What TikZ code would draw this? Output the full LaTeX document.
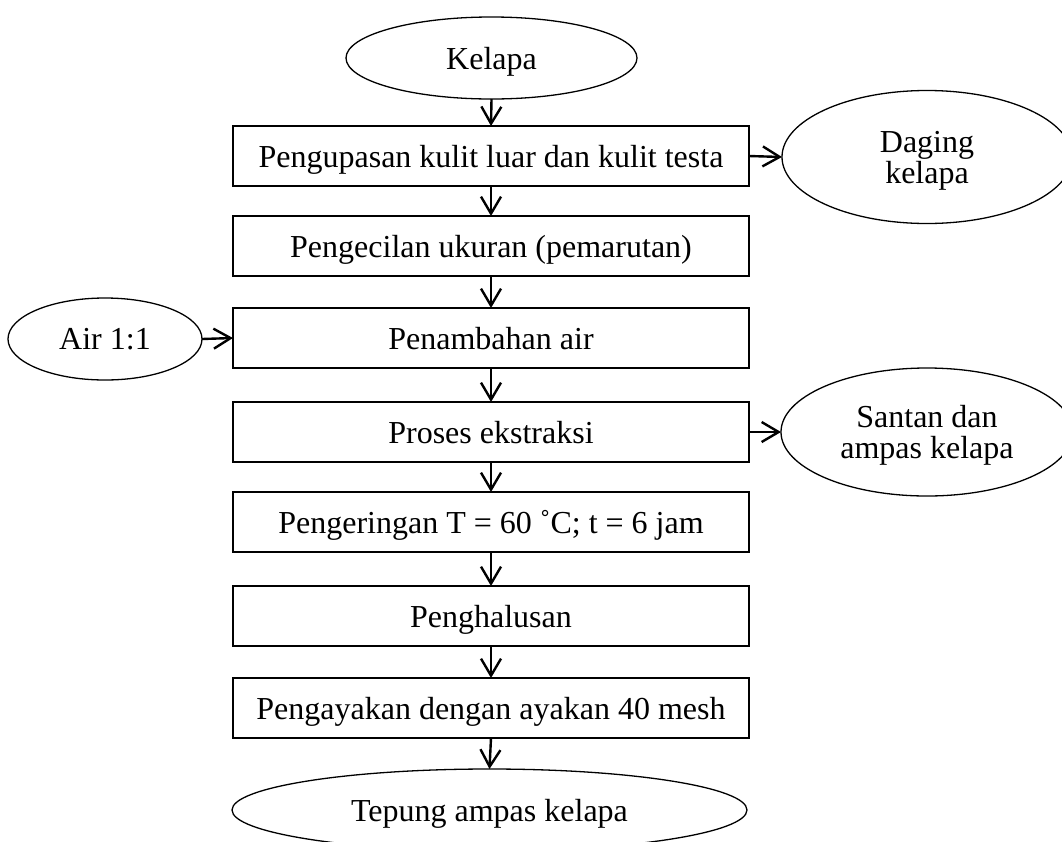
\documentclass[tikz,border=0pt]{standalone}
\usepackage{fontspec}
\setmainfont{Liberation Serif}
\usetikzlibrary{shapes.geometric,arrows.meta}
\begin{document}
\begin{tikzpicture}[x=1pt,y=-1pt,
  every node/.style={font=\fontsize{32}{31}\selectfont, inner sep=0pt, outer sep=0pt, text depth=0pt},
  procbox/.style={draw, line width=1.3pt, minimum width=516pt, minimum height=60pt},
  oval/.style={draw, ellipse, line width=1.3pt, align=center},
  flow/.style={line width=2.4pt, -{Straight Barb[length=17pt,width=20pt]}}
]
\useasboundingbox (0,0) rectangle (1062,841);
\clip (0,0) rectangle (1062,841);

\node[oval, minimum width=291pt, minimum height=82pt] (k) at (491.5,58) {Kelapa};
\node[procbox] (b1) at (491,156) {Pengupasan kulit luar dan kulit testa};
\node[procbox] (b2) at (491,246) {Pengecilan ukuran (pemarutan)};
\node[procbox] (b3) at (491,338) {Penambahan air};
\node[procbox] (b4) at (491,432) {Proses ekstraksi};
\node[procbox] (b5) at (491,522) {Pengeringan T = 60 ˚C; t = 6 jam};
\node[procbox] (b6) at (491,616) {Penghalusan};
\node[procbox] (b7) at (491,708) {Pengayakan dengan ayakan 40 mesh};
\node[oval, minimum width=515pt, minimum height=82pt] (t) at (489.5,810) {Tepung ampas kelapa};

\node[oval, minimum width=290pt, minimum height=133pt] (d) at (927,157) {Daging\\kelapa};
\node[oval, minimum width=292pt, minimum height=128pt] (s) at (927,432) {Santan dan\\ampas kelapa};
\node[oval, minimum width=194pt, minimum height=82pt] (a) at (105,339) {Air 1:1};

\draw[flow] (k.south) -- (b1.north);
\draw[flow] (b1.south) -- (b2.north);
\draw[flow] (b2.south) -- (b3.north);
\draw[flow] (b3.south) -- (b4.north);
\draw[flow] (b4.south) -- (b5.north);
\draw[flow] (b5.south) -- (b6.north);
\draw[flow] (b6.south) -- (b7.north);
\draw[flow] (b7.south) -- (t.north);
\draw[flow] (b1.east) -- (d.west);
\draw[flow] (b4.east) -- (s.west);
\draw[flow] (a.east) -- (b3.west);
\end{tikzpicture}
\end{document}
